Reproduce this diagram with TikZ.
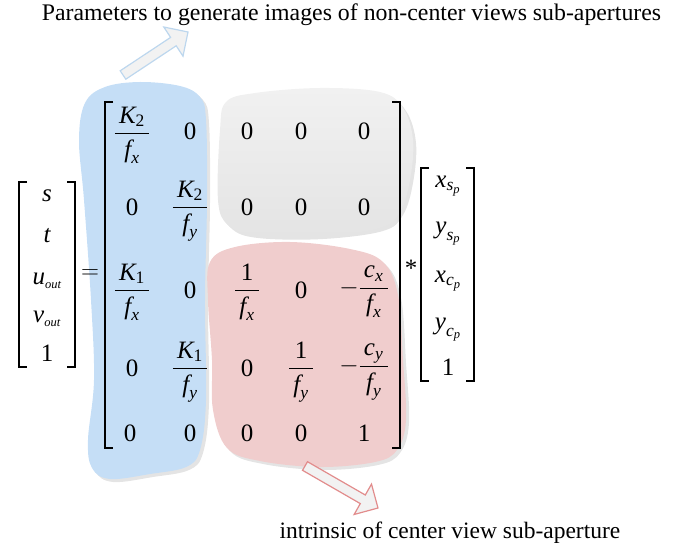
\documentclass[tikz,border=0pt]{standalone}
\usepackage{amsmath}
\usepackage{fontspec}
\setmainfont{Liberation Serif}
\newcommand{\mi}[1]{\text{\itshape #1}}
\newcommand{\mr}[1]{\text{#1}}
\newcommand{\pad}[1]{\,#1\,}
\definecolor{blobblue}{RGB}{197,222,246}
\definecolor{blobred}{RGB}{240,205,205}
\definecolor{blobgrayA}{RGB}{241,241,241}
\definecolor{blobgrayB}{RGB}{228,228,228}
\definecolor{shadowgray}{RGB}{228,228,228}
\definecolor{arrblue}{RGB}{189,215,238}
\definecolor{arrred}{RGB}{226,140,140}
\definecolor{arrfill}{RGB}{242,242,242}
\tikzset{
  ent/.style={inner sep=0pt, font=\fontsize{25}{30}\selectfont},
  lbl/.style={inner sep=0pt, anchor=base, font=\fontsize{23.5}{28}\selectfont},
  brk/.style={line width=1.1pt, black},
  fatarrow/.style={line width=1.2pt, fill=arrfill, line join=miter},
}
\begin{document}
\begin{tikzpicture}[x=1pt,y=-1pt]
\useasboundingbox (0,0) rectangle (694,548);
% shadows
\fill[shadowgray, shift={(3,3)}] plot[smooth cycle, tension=0.6] coordinates {(79,140) (85,103) (105,87) (140,82) (180,86) (200,97) (206,120) (207,200) (205,300) (206,400) (200,450) (186,467) (150,474) (110,479) (92,468) (88,440) (94,380) (91,300) (84,200)};
\fill[shadowgray, shift={(3,3)}] plot[smooth cycle, tension=0.6] coordinates {(220,130) (226,102) (255,93) (320,88) (380,92) (403,108) (413,140) (410,180) (400,212) (380,228) (320,236) (255,235) (228,225) (218,200)};
\fill[shadowgray, shift={(3,3)}] plot[smooth cycle, tension=0.6] coordinates {(208,300) (210,262) (235,247) (290,242) (350,249) (383,262) (398,295) (403,360) (406,420) (397,450) (375,462) (320,467) (260,461) (227,448) (213,410) (212,360)};
% blobs
\fill[blobblue] plot[smooth cycle, tension=0.6] coordinates {(79,140) (85,103) (105,87) (140,82) (180,86) (200,97) (206,120) (207,200) (205,300) (206,400) (200,450) (186,467) (150,474) (110,479) (92,468) (88,440) (94,380) (91,300) (84,200)};
\shade[top color=blobgrayA, bottom color=blobgrayB] plot[smooth cycle, tension=0.6] coordinates {(220,130) (226,102) (255,93) (320,88) (380,92) (403,108) (413,140) (410,180) (400,212) (380,228) (320,236) (255,235) (228,225) (218,200)};
\fill[blobred] plot[smooth cycle, tension=0.6] coordinates {(208,300) (210,262) (235,247) (290,242) (350,249) (383,262) (398,295) (403,360) (406,420) (397,450) (375,462) (320,467) (260,461) (227,448) (213,410) (212,360)};
% arrows
\draw[fatarrow, draw=arrblue] (120.2,70.8) -- (170.6,37.4) -- (163.8,27.0) -- (188,32) -- (183.0,56.2) -- (176.2,45.8) -- (125.8,79.2) -- cycle;
\draw[fatarrow, draw=arrred] (307.5,461.7) -- (365.3,495.0) -- (371.5,484.1) -- (378,508) -- (354.1,514.5) -- (360.3,503.6) -- (302.5,470.3) -- cycle;
% texts
\node[lbl, font=\fontsize{23.8}{28}\selectfont] (toptext) at (351.5,21) {Parameters to generate images of non-center views sub-apertures};
\node[lbl] (bottext) at (450,538) {intrinsic of center view sub-aperture};
% left vector
\draw[brk] (27,182) -- (19,182) -- (19,367) -- (27,367);
\draw[brk] (67,182) -- (75,182) -- (75,367) -- (67,367);
\node[ent] (vs) at (47,196) {$\mi{s}$};
\node[ent] (vt) at (47,236) {$\mi{t}$};
\node[ent] (vu) at (47,281) {$\mi{u}_{\scriptscriptstyle\mi{out}}$};
\node[ent] (vv) at (47,319) {$\mi{v}_{\scriptscriptstyle\mi{out}}$};
\node[ent] (v1) at (47,353) {$\mr{1}$};
\node[ent] (eq) at (90,274) {$=$};
% big matrix
\draw[brk] (113,102) -- (105,102) -- (105,448) -- (113,448);
\draw[brk] (392,102) -- (400,102) -- (400,448) -- (392,448);
\node[ent] (m11) at (132,135) {$\dfrac{\pad{\mi{K}_{\mr{2}}}}{\pad{\mi{f}_{\mi{x}}}}$};
\node[ent] (m12) at (190,131) {$\mr{0}$};
\node[ent] (m13) at (247,131) {$\mr{0}$};
\node[ent] (m14) at (301,131) {$\mr{0}$};
\node[ent] (m15) at (364,131) {$\mr{0}$};
\node[ent] (m21) at (132,207) {$\mr{0}$};
\node[ent] (m22) at (190,211) {$\dfrac{\pad{\mi{K}_{\mr{2}}}}{\pad{\mi{f}_{\mi{y}}}}$};
\node[ent] (m23) at (247,207) {$\mr{0}$};
\node[ent] (m24) at (301,207) {$\mr{0}$};
\node[ent] (m25) at (364,207) {$\mr{0}$};
\node[ent] (m31) at (132,292) {$\dfrac{\pad{\mi{K}_{\mr{1}}}}{\pad{\mi{f}_{\mi{x}}}}$};
\node[ent] (m32) at (190,290) {$\mr{0}$};
\node[ent] (m33) at (247,292) {$\dfrac{\pad{\mr{1}}}{\pad{\mi{f}_{\mi{x}}}}$};
\node[ent] (m34) at (301,290) {$\mr{0}$};
\node[ent] (m35) at (364,292) {$-\dfrac{\pad{\mi{c}_{\mi{x}}}}{\pad{\mi{f}_{\mi{x}}}}$};
\node[ent] (m41) at (132,368) {$\mr{0}$};
\node[ent] (m42) at (190,372) {$\dfrac{\pad{\mi{K}_{\mr{1}}}}{\pad{\mi{f}_{\mi{y}}}}$};
\node[ent] (m43) at (247,368) {$\mr{0}$};
\node[ent] (m44) at (301,372) {$\dfrac{\pad{\mr{1}}}{\pad{\mi{f}_{\mi{y}}}}$};
\node[ent] (m45) at (364,372) {$-\dfrac{\pad{\mi{c}_{\mi{y}}}}{\pad{\mi{f}_{\mi{y}}}}$};
\node[ent] (m51) at (130,433) {$\mr{0}$};
\node[ent] (m52) at (190,433) {$\mr{0}$};
\node[ent] (m53) at (247,433) {$\mr{0}$};
\node[ent] (m54) at (301,433) {$\mr{0}$};
\node[ent] (m55) at (364,433) {$\mr{1}$};
% star
\node[ent] (star) at (411,268) {$\mr{*}$};
% right vector
\draw[brk] (429,168) -- (421,168) -- (421,381) -- (429,381);
\draw[brk] (466,168) -- (474,168) -- (474,381) -- (466,381);
\node[ent] (w1) at (448,186) {$\mi{x}_{\mi{s}_{\mi{p}}}$};
\node[ent] (w2) at (448,234) {$\mi{y}_{\mi{s}_{\mi{p}}}$};
\node[ent] (w3) at (448,281) {$\mi{x}_{\mi{c}_{\mi{p}}}$};
\node[ent] (w4) at (448,330) {$\mi{y}_{\mi{c}_{\mi{p}}}$};
\node[ent] (w5) at (448,367) {$\mr{1}$};
\end{tikzpicture}
\end{document}
